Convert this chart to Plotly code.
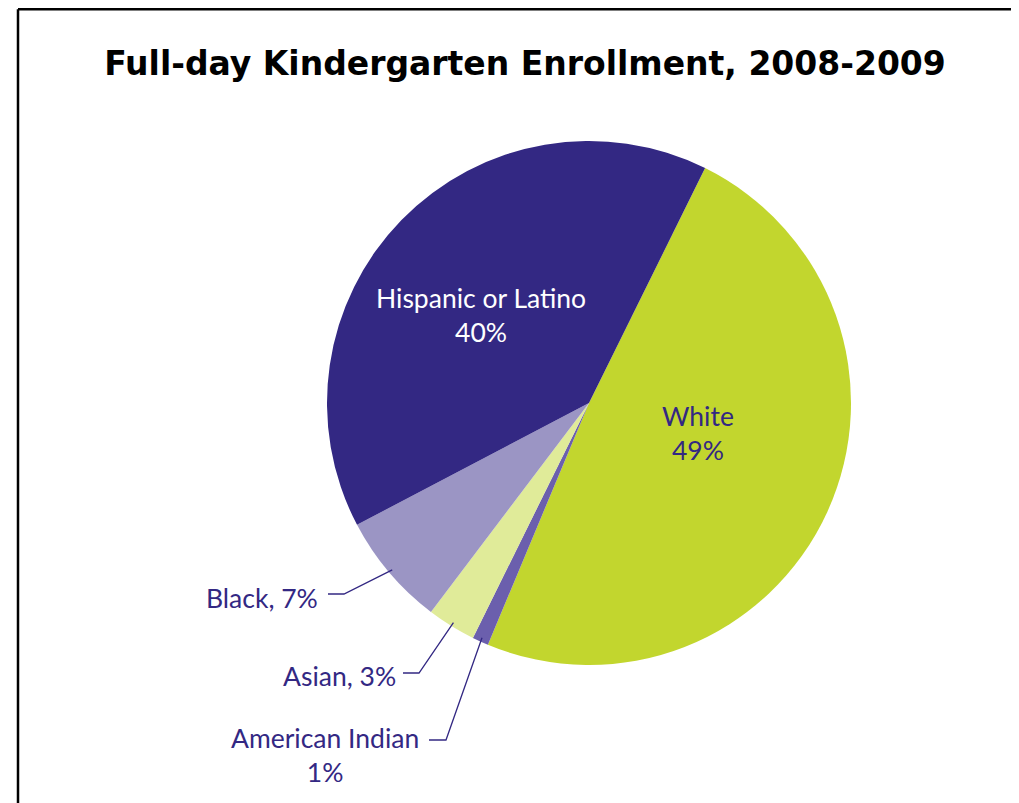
import math
import plotly.graph_objects as go

# ---- data ----
categories = ["White", "American Indian", "Asian", "Black", "Hispanic or Latino"]
values = [49, 1, 3, 7, 40]
colors = ["#c2d62e", "#6b5fad", "#e0eb99", "#9b95c4", "#332883"]
title_text = "Full-day Kindergarten Enrollment, 2008-2009"

OFF = 8                      # page body margin of the html page
W, H = 1019 - OFF, 803 - OFF  # figure size
CX, CY, R = 589, 403, 262     # target pie centre/radius in screen pixels
ROT = 26.3
LABEL_COLOR = "#332883"
FONT = "Lato"
LSIZE = 26.5

def px(x):
    return (x - OFF) / W

def py(y):
    return 1 - (y - OFF) / H

fig = go.Figure(go.Pie(
    labels=categories,
    values=values,
    marker=dict(colors=colors, line=dict(width=0)),
    sort=False,
    direction="clockwise",
    rotation=ROT,
    textinfo="none",
    hoverinfo="label+percent",
    showlegend=False,
    domain=dict(x=[px(CX - R), px(CX + R)], y=[py(CY + R), py(CY - R)]),
))

# slice mid angles (clockwise from 12 o'clock), derived from data
total = sum(values)
mid = {}
acc = ROT
for c, v in zip(categories, values):
    a = v / total * 360
    mid[c] = acc + a / 2
    acc += a

def edge(cat, rr=R):
    ang = math.radians(mid[cat])
    return CX + rr * math.sin(ang), CY - rr * math.cos(ang)

annotations = []
shapes = []

def label(x, y, text, color, xanchor="center"):
    annotations.append(dict(
        x=px(x), y=py(y), xref="paper", yref="paper",
        text=text, showarrow=False,
        font=dict(family=FONT, size=LSIZE, color=color),
        align="center", xanchor=xanchor, yanchor="middle",
    ))

# inside labels
label(481, 315, f"{categories[4]}<br>{values[4]}%", "white")
label(698, 433, f"{categories[0]}<br>{values[0]}%", LABEL_COLOR)

# outside labels with elbow leader lines
outside = [
    # category, elbow start x, elbow end x, elbow y
    ("Black", 328, 344, 594),
    ("Asian", 403, 419, 673),
    ("American Indian", 429, 446, 740),
]
for cat, x0, x1, y0 in outside:
    ex, ey = edge(cat, R - 4)
    shapes.append(dict(
        type="path", xref="paper", yref="paper",
        path=f"M {px(x0)},{py(y0)} L {px(x1)},{py(y0)} L {px(ex)},{py(ey)}",
        line=dict(color=LABEL_COLOR, width=1.3),
    ))

label(320, 598, f"{categories[3]}, {values[3]}%", LABEL_COLOR, xanchor="right")
label(398, 676, f"{categories[2]}, {values[2]}%", LABEL_COLOR, xanchor="right")
label(421, 755, f"{categories[1]}<br>{values[1]}%", LABEL_COLOR, xanchor="right")

# frame lines
TOPY = 1 - 1.3 / H
shapes.append(dict(type="line", xref="paper", yref="paper", x0=px(18), x1=1.0, y0=TOPY, y1=TOPY,
                   line=dict(color="black", width=2.5)))
shapes.append(dict(type="line", xref="paper", yref="paper", x0=px(18), x1=px(18), y0=TOPY, y1=0,
                   line=dict(color="black", width=2.5)))

fig.update_layout(
    width=W, height=H,
    margin=dict(l=0, r=0, t=0, b=0),
    paper_bgcolor="white", plot_bgcolor="white",
    title=dict(text=f"<b>{title_text}</b>", x=px(525), y=py(63), xanchor="center", yanchor="middle",
               font=dict(family="DejaVu Sans", size=33, color="black")),
    annotations=annotations,
    shapes=shapes,
)

fig.write_html("out.html")
